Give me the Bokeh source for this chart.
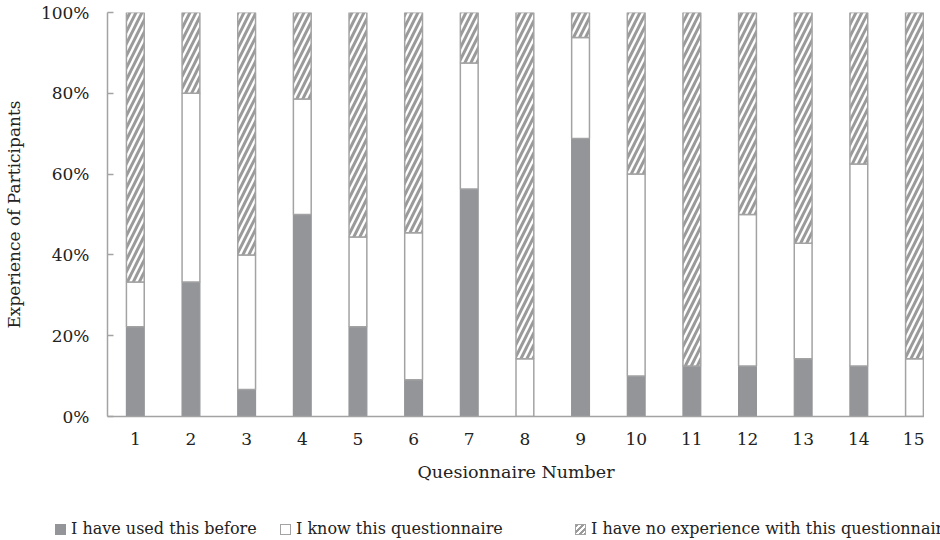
from bokeh.plotting import figure
from bokeh.layouts import column
from bokeh.models import ColumnDataSource, FixedTicker, PrintfTickFormatter, Range1d, Div
from bokeh.embed import file_html
from bokeh.resources import INLINE

questionnaires = list(range(1, 16))
used_before = [22.2, 33.3, 6.7, 50.0, 22.2, 9.1, 56.3, 0.0, 68.8, 10.0, 12.5, 12.5, 14.3, 12.5, 0.0]
know_it = [11.1, 46.7, 33.3, 28.6, 22.2, 36.4, 31.2, 14.3, 25.0, 50.0, 0.0, 37.5, 28.6, 50.0, 14.3]
no_experience = [66.7, 20.0, 60.0, 21.4, 55.6, 54.5, 12.5, 85.7, 6.2, 40.0, 87.5, 50.0, 57.1, 37.5, 85.7]
y_ticks = [0, 20, 40, 60, 80, 100]
series_labels = ["I have used this before", "I know this questionnaire",
                 "I have no experience with this questionnaire"]

b1 = [0.0] * len(questionnaires)
t1 = [u for u in used_before]
t2 = [u + k for u, k in zip(used_before, know_it)]
t3 = [u + k + n for u, k, n in zip(used_before, know_it, no_experience)]

src = ColumnDataSource(dict(x=questionnaires, b1=b1, t1=t1, t2=t2, t3=t3))

FONT = "DejaVu Serif"
GRAY = "#939598"
EDGE = "#a3a3a3"
HATCH = "#9a9a9a"
TXT = "#222222"

p = figure(width=924, height=490, output_backend="svg", toolbar_location=None,
           x_range=Range1d(0.5, 15.18), y_range=Range1d(0, 100))
p.min_border_left = 101
p.min_border_right = 0
p.min_border_top = 12
p.min_border_bottom = 74
p.outline_line_color = None
p.xgrid.visible = False
p.ygrid.visible = False

w = 0.32
p.vbar(x="x", bottom="b1", top="t1", width=w, source=src,
       fill_color=GRAY, line_color=GRAY, line_width=1.2)
p.vbar(x="x", bottom="t1", top="t2", width=w, source=src,
       fill_color="white", line_color=EDGE, line_width=1.5)
p.vbar(x="x", bottom="t2", top="t3", width=w, source=src,
       fill_color="white", line_color=EDGE, line_width=1.5,
       hatch_pattern="right_diagonal_line", hatch_color=HATCH,
       hatch_scale=12, hatch_weight=3)

p.xaxis.ticker = FixedTicker(ticks=questionnaires)
p.yaxis.ticker = FixedTicker(ticks=y_ticks)
p.yaxis.formatter = PrintfTickFormatter(format="%d%%")

for ax in (p.xaxis, p.yaxis):
    ax.axis_line_color = EDGE
    ax.axis_line_width = 1.5
    ax.major_label_text_font = FONT
    ax.major_label_text_font_size = "17px"
    ax.major_label_text_color = TXT
    ax.axis_label_text_font = FONT
    ax.axis_label_text_font_size = "17.5px"
    ax.axis_label_text_font_style = "normal"
    ax.axis_label_text_color = TXT
    ax.minor_tick_line_color = None

p.xaxis.major_tick_line_color = None
p.xaxis.major_label_standoff = 10
p.xaxis.axis_label = "Quesionnaire Number"
p.xaxis.axis_label_standoff = 14

p.yaxis.major_tick_line_color = EDGE
p.yaxis.major_tick_line_width = 1.5
p.yaxis.major_tick_in = 6
p.yaxis.major_tick_out = 0
p.yaxis.major_label_standoff = 18
p.yaxis.axis_label = "Experience of Participants"
p.yaxis.axis_label_text_font_size = "17px"
p.yaxis.axis_label_standoff = 14

# legend strip below the chart (real HTML text)
swatches = [
    "background:%s;border:1px solid %s;" % (GRAY, GRAY),
    "background:#ffffff;border:1px solid %s;" % EDGE,
    "background:repeating-linear-gradient(135deg, %s 0px, %s 2px, #ffffff 2px, #ffffff 4px);"
    "border:1px solid %s;" % (HATCH, HATCH, EDGE),
]
lefts = [50, 275, 570]
items = []
for lab, sw, left in zip(series_labels, swatches, lefts):
    items.append(
        '<span style="position:absolute;left:%dpx;top:24px;white-space:nowrap;line-height:20px;">'
        '<span style="display:inline-block;width:11px;height:11px;box-sizing:border-box;%s'
        'margin-right:5px;vertical-align:-1px;"></span>%s</span>' % (left, sw, lab))
html = ('<div style="position:relative;width:924px;height:46px;font-family:\'DejaVu Serif\';'
        'font-size:16px;color:%s;">%s</div>' % (TXT, "".join(items)))
legend_div = Div(text=html, width=924, height=46)

open("out.html", "w").write(file_html(column(p, legend_div, spacing=0), INLINE))
